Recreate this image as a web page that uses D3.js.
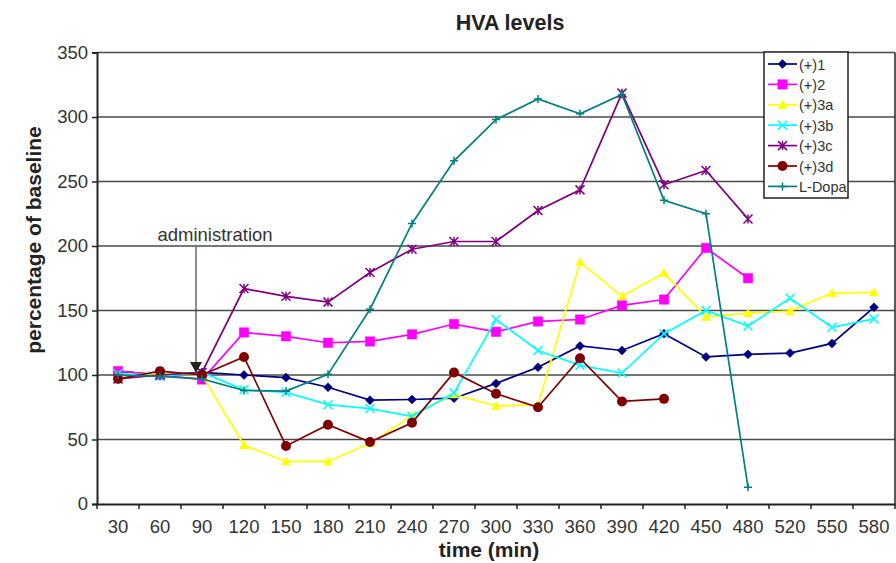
<!DOCTYPE html>
<html>
<head>
<meta charset="utf-8">
<script src="https://cdn.jsdelivr.net/npm/d3@7"></script>
<style>
  html, body { margin: 0; padding: 0; background: #fff; }
  svg { display: block; font-family: "Liberation Sans", Arial, sans-serif; }
</style>
</head>
<body>
<svg id="chart" width="896" height="563"></svg>
<script>
const categories = ["30","60","90","120","150","180","210","240","270","300","330","360","390","420","450","480","520","550","580"];
const yTicks = [0, 50, 100, 150, 200, 250, 300, 350];

const s1   = [103, 100, 102, 100, 98, 90.5, 80.5, 81, 82, 93.5, 106, 122.5, 119, 132, 114, 116, 117, 124.5, 152.5];
const s2   = [103, 100, 96.5, 133, 130, 125, 126, 131.5, 139.5, 133.5, 141.5, 143, 154, 158.5, 198.5, 175];
const s3a  = [100, 101, 100, 45.5, 33, 33, 47, 68.5, 85, 76, 77, 187.5, 161, 179, 145, 148, 149.5, 163.5, 164];
const s3b  = [101, 99, 102, 88.5, 86.5, 77, 74, 68, 86, 143, 119, 107.5, 101.5, 132, 150, 138, 159.5, 137, 143.5];
const s3c  = [97, 100, 102, 167, 161, 156.5, 179.5, 197.5, 203.5, 203.5, 227.5, 243.5, 318.5, 247.5, 258.5, 221];
const s3d  = [97, 103, 100, 114, 45, 61.5, 48, 63, 102, 85.5, 75, 113, 79.5, 81.5];
const lDopa= [100, 99, 97, 88, 87.5, 100.5, 151, 217.5, 266, 298, 314, 302.5, 317.5, 235.5, 225, 13];

const seriesNames = ["(+)1","(+)2","(+)3a","(+)3b","(+)3c","(+)3d","L-Dopa"];
const seriesValues = [s1, s2, s3a, s3b, s3c, s3d, lDopa];
const seriesColors = ["#000080","#ff00ff","#ffff00","#00ffff","#800080","#800000","#008080"];
const seriesMarkers = ["diamond","square","triangle","x","asterisk","circle","plus"];

const title = "HVA levels";
const xTitle = "time (min)";
const yTitle = "percentage of baseline";
const annotation = "administration";
const annotationCategory = "90";

(function () {
const svg = d3.select("#chart");
const pL = 97, pR = 895, pT = 52.5, pB = 504;

const x = d3.scaleBand().domain(categories).range([pL, pR]);
const y = d3.scaleLinear().domain([0, 350]).range([pB, pT]);

// gridlines
svg.append("g").selectAll("line").data(yTicks.filter(d => d > 0)).join("line")
  .attr("x1", pL).attr("x2", pR)
  .attr("y1", d => y(d)).attr("y2", d => y(d))
  .attr("stroke", "#4a4a4a").attr("stroke-width", 1.4);

// right frame
svg.append("line").attr("x1", pR).attr("x2", pR).attr("y1", pT).attr("y2", pB)
  .attr("stroke", "#222").attr("stroke-width", 1.5);

// y axis
const yAxis = svg.append("g").attr("transform", `translate(${pL},0)`)
  .call(d3.axisLeft(y).tickValues(yTicks).tickSize(5).tickPadding(4));
yAxis.select(".domain").attr("stroke", "#222").attr("stroke-width", 2);
yAxis.selectAll(".tick line").attr("stroke", "#222").attr("stroke-width", 1.5);
yAxis.selectAll("text").attr("font-size", 18.5).attr("fill", "#333")
  .attr("font-family", "Liberation Sans, Arial, sans-serif");

// x axis with ticks at category boundaries
const xAxis = svg.append("g").attr("transform", `translate(0,${pB})`)
  .call(d3.axisBottom(x).tickSize(0).tickPadding(16));
xAxis.select(".domain").attr("stroke", "#222").attr("stroke-width", 2);
xAxis.selectAll("text").attr("font-size", 18.5).attr("fill", "#333")
  .attr("font-family", "Liberation Sans, Arial, sans-serif");
xAxis.selectAll("line.bound").data(categories.concat(["end"])).join("line")
  .attr("class", "bound")
  .attr("x1", (d, i) => pL + i * x.step()).attr("x2", (d, i) => pL + i * x.step())
  .attr("y1", 0).attr("y2", 5)
  .attr("stroke", "#222").attr("stroke-width", 1.5);

// marker shapes
function markerPath(type, s) {
  switch (type) {
    case "diamond": return `M0,${-s}L${s},0L0,${s}L${-s},0Z`;
    case "square": return `M${-s},${-s}H${s}V${s}H${-s}Z`;
    case "triangle": return `M0,${-s}L${s},${s*0.8}L${-s},${s*0.8}Z`;
    case "x": return `M${-s},${-s}L${s},${s}M${s},${-s}L${-s},${s}`;
    case "asterisk": return `M${-s},${-s}L${s},${s}M${s},${-s}L${-s},${s}M0,${-s}V${s}`;
    case "plus": return `M${-s},0H${s}M0,${-s}V${s}`;
  }
  return "";
}
function drawMarker(g, type, color, cx, cy) {
  if (type === "circle") {
    g.append("circle").attr("cx", cx).attr("cy", cy).attr("r", 5).attr("fill", color);
    return;
  }
  const size = {diamond: 4.5, square: 4.7, triangle: 4.5, x: 4.5, asterisk: 4.5, plus: 4}[type];
  const filled = ["diamond","square","triangle"].includes(type);
  g.append("path").attr("transform", `translate(${cx},${cy})`)
    .attr("d", markerPath(type, size))
    .attr("fill", filled ? color : "none")
    .attr("stroke", color)
    .attr("stroke-width", filled ? 0.5 : 1.5);
}

const line = d3.line().x((d, i) => x(categories[i]) + x.bandwidth() / 2).y(d => y(d));

const plotG = svg.append("g");
seriesValues.forEach((vals, si) => {
  const g = plotG.append("g");
  g.append("path").datum(vals).attr("d", line)
    .attr("fill", "none").attr("stroke", seriesColors[si]).attr("stroke-width", 1.7);
  vals.forEach((v, i) => drawMarker(g, seriesMarkers[si], seriesColors[si], x(categories[i]) + x.bandwidth() / 2, y(v)));
});

// annotation
const ax = x(annotationCategory) + x.bandwidth() / 2 - 6;
svg.append("text").attr("x", 215).attr("y", 241).attr("text-anchor", "middle")
  .attr("font-size", 18.5).attr("fill", "#333").text(annotation);
svg.append("line").attr("x1", ax).attr("x2", ax).attr("y1", 247).attr("y2", 364)
  .attr("stroke", "#444").attr("stroke-width", 1.2);
svg.append("path").attr("d", `M${ax-6},${362}L${ax+6},${362}L${ax},${373}Z`).attr("fill", "#222");

// legend
const lg = svg.append("g");
lg.append("rect").attr("x", 764).attr("y", 52).attr("width", 84).attr("height", 146)
  .attr("fill", "#fff").attr("stroke", "#222").attr("stroke-width", 1.5);
seriesNames.forEach((name, i) => {
  const ly = 64 + i * 20.4;
  lg.append("line").attr("x1", 768).attr("x2", 797).attr("y1", ly).attr("y2", ly)
    .attr("stroke", seriesColors[i]).attr("stroke-width", 1.7);
  drawMarker(lg, seriesMarkers[i], seriesColors[i], 782.5, ly);
  lg.append("text").attr("x", 799).attr("y", ly + 5.5).attr("font-size", 14.5).attr("fill", "#333").text(name);
});

// titles
svg.append("text").attr("x", 510).attr("y", 30).attr("text-anchor", "middle")
  .attr("font-size", 21.5).attr("font-weight", "bold").attr("fill", "#222").text(title);
svg.append("text").attr("x", 489).attr("y", 557).attr("text-anchor", "middle")
  .attr("font-size", 21).attr("font-weight", "bold").attr("fill", "#222").text(xTitle);
svg.append("text").attr("transform", "translate(41,240) rotate(-90)").attr("text-anchor", "middle")
  .attr("font-size", 21).attr("font-weight", "bold").attr("fill", "#222").text(yTitle);
})();
</script>
</body>
</html>
